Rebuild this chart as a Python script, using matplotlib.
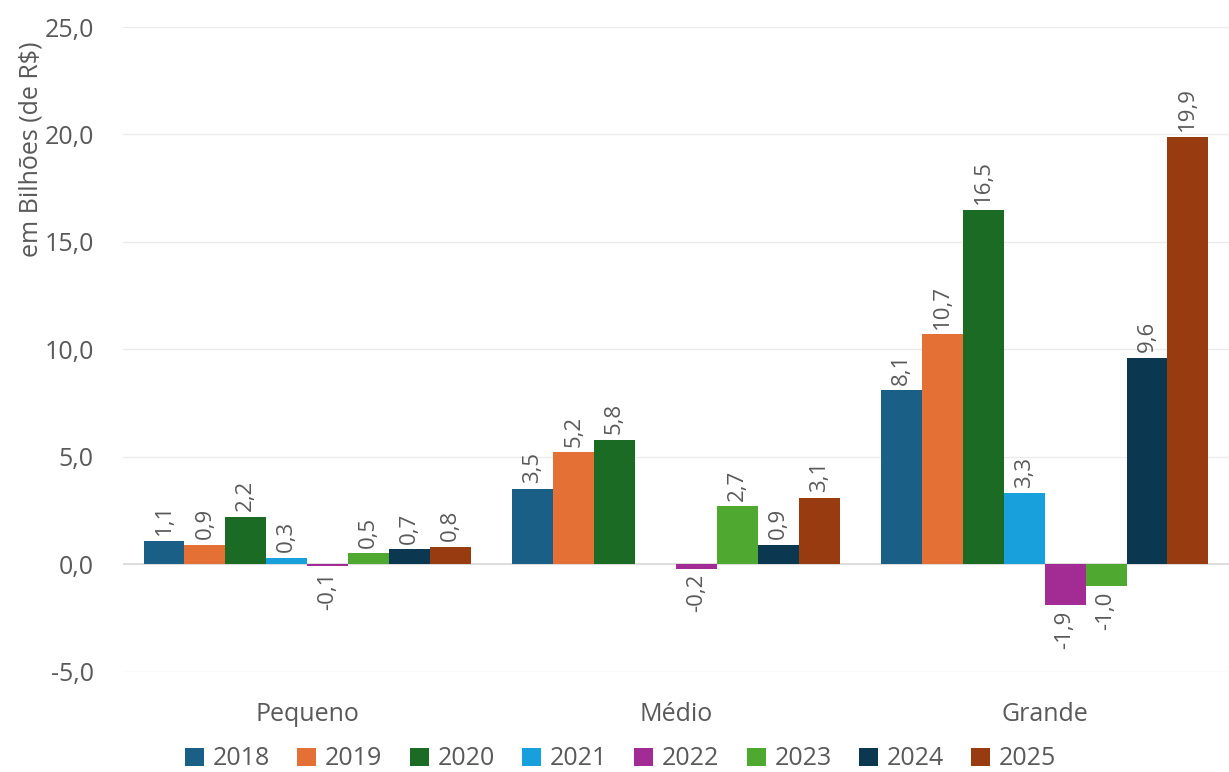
import numpy as np
import matplotlib.pyplot as plt

plt.rcParams['font.family'] = ['Open Sans', 'DejaVu Sans']

categorias = ['Pequeno', 'Médio', 'Grande']
anos = ['2018', '2019', '2020', '2021', '2022', '2023', '2024', '2025']
valores = {
    '2018': [1.1, 3.5, 8.1],
    '2019': [0.9, 5.2, 10.7],
    '2020': [2.2, 5.8, 16.5],
    '2021': [0.3, np.nan, 3.3],
    '2022': [-0.1, -0.2, -1.9],
    '2023': [0.5, 2.7, -1.0],
    '2024': [0.7, 0.9, 9.6],
    '2025': [0.8, 3.1, 19.9],
}
cores = ['#1a5f85', '#e57035', '#1c6b25', '#17a0dc', '#a32b94',
         '#4fa82f', '#0c3750', '#983b11']

texto = '#595959'
fig = plt.figure(figsize=(12.29, 7.72), dpi=100)
ax = fig.add_axes([0.1, 0.13, 0.9, 0.835])

x = np.arange(len(categorias))
largura = 0.111
for i, ano in enumerate(anos):
    pos = x + (i - 3.5) * largura
    vals = np.array(valores[ano])
    ax.bar(pos, vals, largura, color=cores[i], label=ano, zorder=3)
    for p, v in zip(pos, vals):
        if np.isnan(v):
            continue
        txt = f'{v:.1f}'.replace('.', ',')
        if v >= 0:
            ax.annotate(txt, (p, v), xytext=(0, 4), textcoords='offset points',
                        rotation=90, ha='center', va='bottom',
                        fontsize=16, color=texto)
        else:
            ax.annotate(txt, (p, v), xytext=(0, -4), textcoords='offset points',
                        rotation=90, ha='center', va='top',
                        fontsize=16, color=texto)

ax.set_ylim(-5, 25)
ax.set_xlim(-0.5, 2.5)
ax.set_yticks(np.arange(-5, 26, 5))
ax.set_yticklabels([f'{t:.1f}'.replace('.', ',') for t in np.arange(-5, 26, 5)])
ax.set_xticks(x)
ax.set_xticklabels(categorias)
ax.grid(axis='y', color='#ebebeb', linewidth=1, zorder=0)
ax.axhline(0, color='#d9d9d9', linewidth=1.2, zorder=2)
for s in ax.spines.values():
    s.set_visible(False)
ax.tick_params(length=0, labelsize=18, colors=texto)
ax.tick_params(axis='x', pad=22)
ax.tick_params(axis='y', pad=21)
ax.set_ylabel('em Bilhões (de R$)', fontsize=18, color=texto)
ax.yaxis.set_label_coords(-0.072, 0.81)

fig.legend(*ax.get_legend_handles_labels(), loc='center',
           bbox_to_anchor=(0.505, 0.017), ncol=8,
           frameon=False, fontsize=18, handlelength=0.75, handleheight=0.75,
           handletextpad=0.35, columnspacing=1.1, labelcolor=texto)

fig.savefig('out.png')
